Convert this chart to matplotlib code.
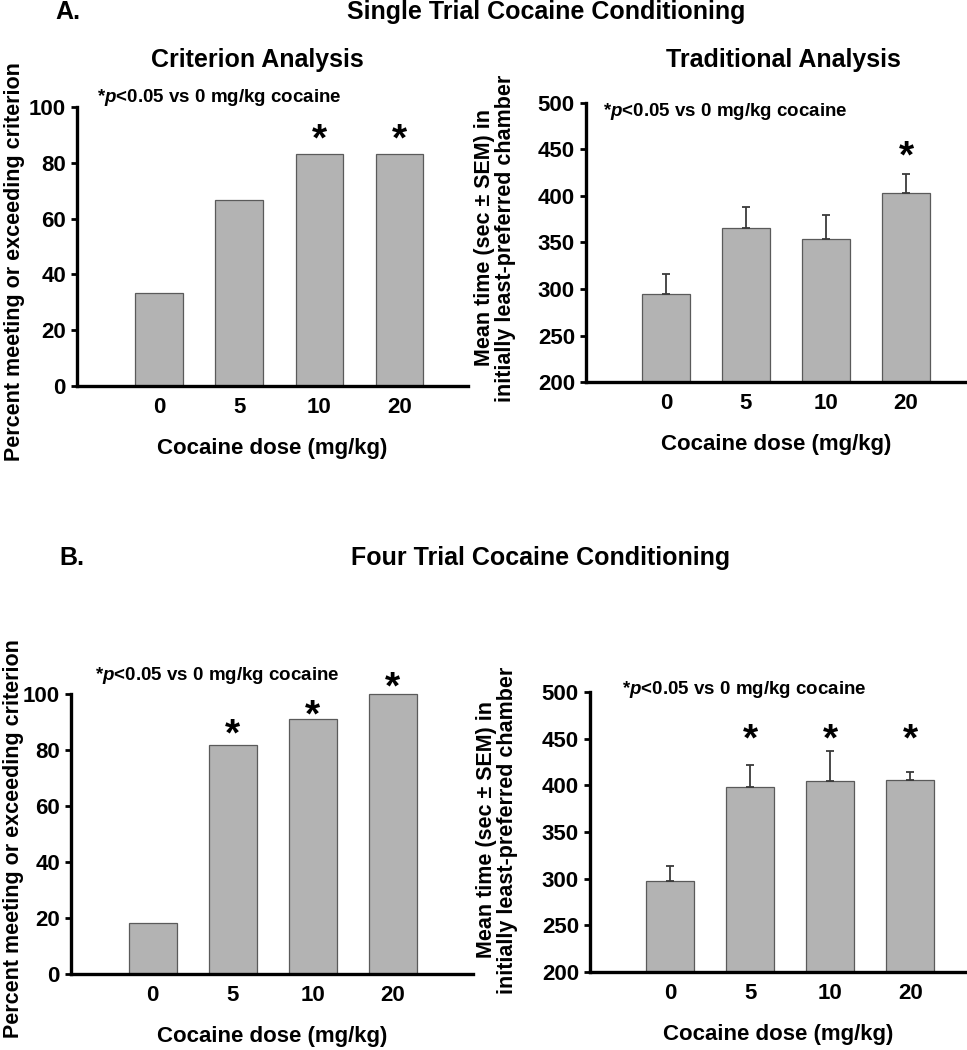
import matplotlib
matplotlib.use("Agg")
import matplotlib.pyplot as plt
import numpy as np

plt.rcParams['font.family'] = ['Liberation Sans', 'DejaVu Sans']
plt.rcParams['font.weight'] = 'bold'
plt.rcParams['mathtext.fontset'] = 'custom'
plt.rcParams['mathtext.it'] = 'Liberation Sans:bold:italic'
plt.rcParams['mathtext.rm'] = 'Liberation Sans:bold'
plt.rcParams['mathtext.bf'] = 'Liberation Sans:bold'

# data
doses = ['0', '5', '10', '20']

single_crit = [33.3, 66.7, 83.3, 83.3]
single_time = [295, 366, 354, 403]
single_sem = [21, 22.6, 25.5, 21]

four_crit = [18.2, 81.8, 90.9, 100]
four_time = [298, 398, 405, 406]
four_sem = [16, 23.7, 31.4, 7.8]

# significance stars (bar index, star height)
single_crit_stars = [(2, 92), (3, 92)]
single_time_stars = [(3, 453)]
four_crit_stars = [(1, 89), (2, 95.7), (3, 105.7)]
four_time_stars = [(1, 460), (2, 460), (3, 460)]

W, H = 967, 1050
fig = plt.figure(figsize=(W / 100, H / 100), dpi=100)

bar_color = '#b3b3b3'
edge_color = '#5a5a5a'
sig_text = r"*$p$<0.05 vs 0 mg/kg cocaine"
crit_label = 'Percent meeting or exceeding criterion'
time_label = 'Mean time (sec \u00b1 SEM) in\ninitially least-preferred chamber'


def px_axes(left, top, right, bottom):
    return fig.add_axes([left / W, 1 - bottom / H, (right - left) / W, (bottom - top) / H])


def style(ax, ylim, yticks, xlim):
    ax.set_ylim(*ylim)
    ax.set_yticks(yticks)
    ax.set_xlim(*xlim)
    ax.set_xticks(range(len(doses)))
    ax.set_xticklabels(doses)
    for s in ['top', 'right']:
        ax.spines[s].set_visible(False)
    for s in ['left', 'bottom']:
        ax.spines[s].set_linewidth(2.4)
        ax.spines[s].set_color('black')
    ax.tick_params(axis='y', length=4, width=2, pad=4, labelsize=16)
    ax.tick_params(axis='x', length=0, pad=8, labelsize=16)
    ax.set_xlabel('Cocaine dose (mg/kg)', fontsize=16, fontweight='bold', labelpad=14)


def stars(ax, marks):
    for i, y in marks:
        ax.annotate('*', (i, y), xytext=(0, -15), textcoords='offset points',
                    ha='center', va='baseline', fontsize=28, fontweight='bold',
                    annotation_clip=False)


x = np.arange(len(doses))
err_style = dict(ecolor='#3a3a3a', elinewidth=1.3, capsize=3, capthick=1.3)

# A left
ax1 = px_axes(77, 107, 468, 386)
ax1.bar(x, single_crit, width=0.59, color=bar_color, edgecolor=edge_color, linewidth=0.9)
style(ax1, (0, 100), range(0, 101, 20), (-1.025, 3.86))
stars(ax1, single_crit_stars)
fig.text(97 / W, 1 - 98 / H, sig_text, fontsize=13.5, fontweight='bold', va='center')

# A right
ax2 = px_axes(586, 103, 966, 382)
ax2.bar(x, single_time, width=0.6, color=bar_color, edgecolor=edge_color, linewidth=0.9,
        yerr=[np.zeros(4), single_sem], error_kw=err_style)
style(ax2, (200, 500), range(200, 501, 50), (-1.0, 3.75))
stars(ax2, single_time_stars)
fig.text(603 / W, 1 - 112 / H, sig_text, fontsize=13.5, fontweight='bold', va='center')

# B left
ax3 = px_axes(71, 694, 473, 974)
bars3 = ax3.bar(x, four_crit, width=0.6, color=bar_color, edgecolor=edge_color, linewidth=0.9)
style(ax3, (0, 100), range(0, 101, 20), (-1.02, 4.0))
bars3[-1].set_clip_on(False)
stars(ax3, four_crit_stars)
fig.text(95 / W, 1 - 675 / H, sig_text, fontsize=13.5, fontweight='bold', va='center')

# B right
ax4 = px_axes(590, 692, 967, 972)
ax4.bar(x, four_time, width=0.6, color=bar_color, edgecolor=edge_color, linewidth=0.9,
        yerr=[np.zeros(4), four_sem], error_kw=err_style)
style(ax4, (200, 500), range(200, 501, 50), (-1.0, 3.71))
stars(ax4, four_time_stars)
fig.text(622 / W, 1 - 690 / H, sig_text, fontsize=13.5, fontweight='bold', va='center')

# y labels
fig.text(15 / W, 1 - 262 / H, crit_label, rotation=90, ha='center', va='center',
         fontsize=15.5, fontweight='bold')
fig.text(495 / W, 1 - 238 / H, time_label, rotation=90, ha='center', va='center',
         fontsize=15.5, fontweight='bold', multialignment='center', linespacing=1.0)
fig.text(14 / W, 1 - 839 / H, crit_label, rotation=90, ha='center', va='center',
         fontsize=15.5, fontweight='bold')
fig.text(497 / W, 1 - 830 / H, time_label, rotation=90, ha='center', va='center',
         fontsize=15.5, fontweight='bold', multialignment='center', linespacing=1.0)

# titles
fig.text(68 / W, 1 - 12 / H, 'A.', fontsize=18, fontweight='bold', ha='center', va='center')
fig.text(546 / W, 1 - 12 / H, 'Single Trial Cocaine Conditioning', fontsize=18,
         fontweight='bold', ha='center', va='center')
fig.text(257 / W, 1 - 60 / H, 'Criterion Analysis', fontsize=18, fontweight='bold',
         ha='center', va='center')
fig.text(783 / W, 1 - 60 / H, 'Traditional Analysis', fontsize=18, fontweight='bold',
         ha='center', va='center')
fig.text(72 / W, 1 - 558 / H, 'B.', fontsize=18, fontweight='bold', ha='center', va='center')
fig.text(541 / W, 1 - 558 / H, 'Four Trial Cocaine Conditioning', fontsize=18,
         fontweight='bold', ha='center', va='center')

fig.savefig('out.png', dpi=100)
